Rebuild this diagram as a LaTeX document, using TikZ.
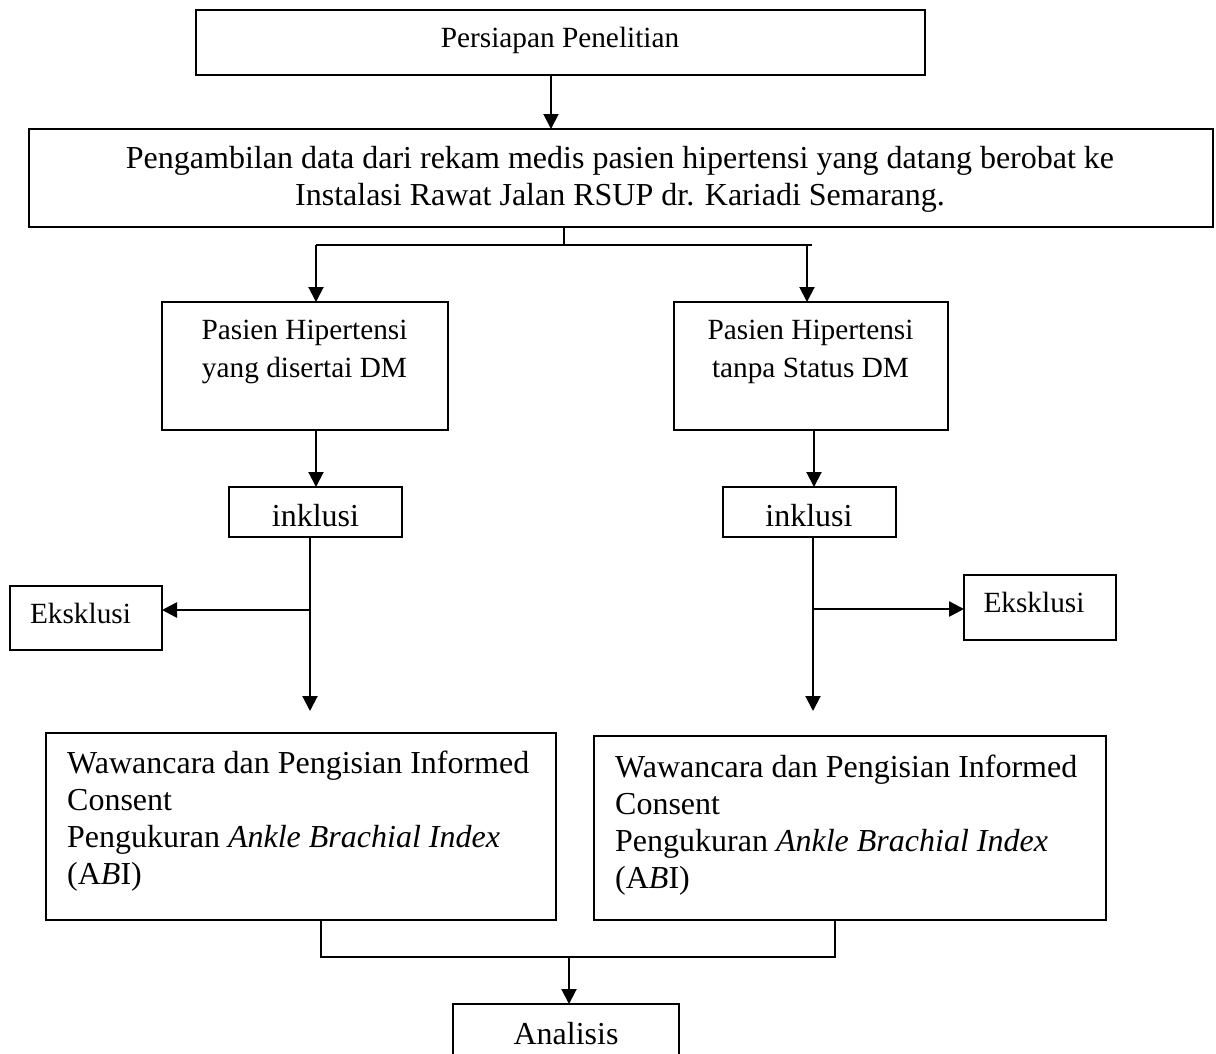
\documentclass[tikz,border=0pt]{standalone}
\usepackage{fontspec}
\setmainfont{Liberation Serif}
\usetikzlibrary{arrows.meta}
\begin{document}
\begin{tikzpicture}[x=1pt,y=-1pt,
  box/.style={draw, line width=2pt, inner sep=0pt, outer sep=0pt},
  lbl/.style={inner sep=0pt, font=\fontsize{32}{37}\selectfont},
  lbls/.style={inner sep=0pt, font=\fontsize{29.3}{38}\selectfont},
  conn/.style={line width=2pt},
  arr/.style={line width=2pt, -{Triangle[length=15pt,width=15pt]}},
  arrb/.style={line width=2.6pt, -{Triangle[length=15pt,width=15pt]}}
]
\useasboundingbox (0,0) rectangle (1216,1053);
\clip (0,0) rectangle (1216,1053);

% boxes
\node[box, minimum width=729pt, minimum height=65pt] (b1) at (560.5,42.5) {};
\node[lbls, anchor=base] (t1) at (560,47) {Persiapan Penelitian};

\node[box, minimum width=1184pt, minimum height=98pt] (b2) at (621,178) {};
\node[lbl, anchor=north, align=center] (t2) at (620,146) {Pengambilan data dari rekam medis pasien hipertensi yang datang berobat ke\\Instalasi Rawat Jalan RSUP dr. Kariadi Semarang.};

\node[box, minimum width=286pt, minimum height=128pt] (pL) at (305,366) {};
\node[lbls, anchor=north, align=center] (tpL) at (304.5,320) {Pasien Hipertensi\\yang disertai DM};
\node[box, minimum width=274pt, minimum height=128pt] (pR) at (811,366) {};
\node[lbls, anchor=north, align=center] (tpR) at (810.5,320) {Pasien Hipertensi\\tanpa Status DM};

\node[box, minimum width=173pt, minimum height=50pt] (iL) at (315.5,512) {};
\node[lbl, anchor=base] (tiL) at (315.5,526) {inklusi};
\node[box, minimum width=173pt, minimum height=50pt] (iR) at (809.5,512) {};
\node[lbl, anchor=base] (tiR) at (809,526) {inklusi};

\node[box, minimum width=152pt, minimum height=64pt] (eL) at (86,618) {};
\node[lbls, anchor=base] (teL) at (80.5,623) {Eksklusi};
\node[box, minimum width=152pt, minimum height=65pt] (eR) at (1040,607.5) {};
\node[lbls, anchor=base] (teR) at (1034,612) {Eksklusi};

\node[box, minimum width=510pt, minimum height=187pt] (wL) at (301,826.5) {};
\node[lbl, anchor=north west, align=left] (twL) at (67,751) {Wawancara dan Pengisian Informed\\Consent\\Pengukuran \textit{Ankle Brachial Index}\\(A\textit{B}I)};
\node[box, minimum width=512pt, minimum height=184pt] (wR) at (850,828) {};
\node[lbl, anchor=north west, align=left] (twR) at (615,755) {Wawancara dan Pengisian Informed\\Consent\\Pengukuran \textit{Ankle Brachial Index}\\(A\textit{B}I)};

\node[box, minimum width=226pt, minimum height=70pt] (an) at (566,1039) {};
\node[lbl, anchor=base] (tan) at (566,1044) {Analisis};

% guide coordinates
\coordinate (cA) at (551,0);
\coordinate (cS) at (564,0);
\coordinate (sL) at (316,245);
\coordinate (sR) at (812,245);
\coordinate (cL1) at (316,0);
\coordinate (cR1) at (807,0);
\coordinate (cR2) at (814,0);
\coordinate (cL3) at (310,0);
\coordinate (cR3) at (813,0);
\coordinate (dL) at (310,711);
\coordinate (dR) at (813,711);
\coordinate (bL) at (310,610);
\coordinate (bR) at (813,609);
\coordinate (jL) at (321,957);
\coordinate (jR) at (835,957);
\coordinate (jM) at (569,957);

% connectors
\draw[arr] (b1.south -| cA) -- (b2.north -| cA);
\draw[conn] (b2.south -| cS) -- (sL -| cS);
\draw[conn] (sL) -- (sR);
\draw[arr] (sL) -- (pL.north -| cL1);
\draw[arr] (sL -| cR1) -- (pR.north -| cR1);
\draw[arr] (pL.south -| cL1) -- (iL.north -| cL1);
\draw[arr] (pR.south -| cR2) -- (iR.north -| cR2);
\draw[arr] (iL.south -| cL3) -- (dL);
\draw[arr] (iR.south -| cR3) -- (dR);
\draw[arrb] (bL) -- (eL.east |- bL);
\draw[arrb] (bR) -- (eR.west |- bR);
\draw[conn] (wL.south -| jL) -- (jL) -- (jR) -- (wR.south -| jR);
\draw[arr] (jM) -- (an.north -| jM);
\end{tikzpicture}
\end{document}
